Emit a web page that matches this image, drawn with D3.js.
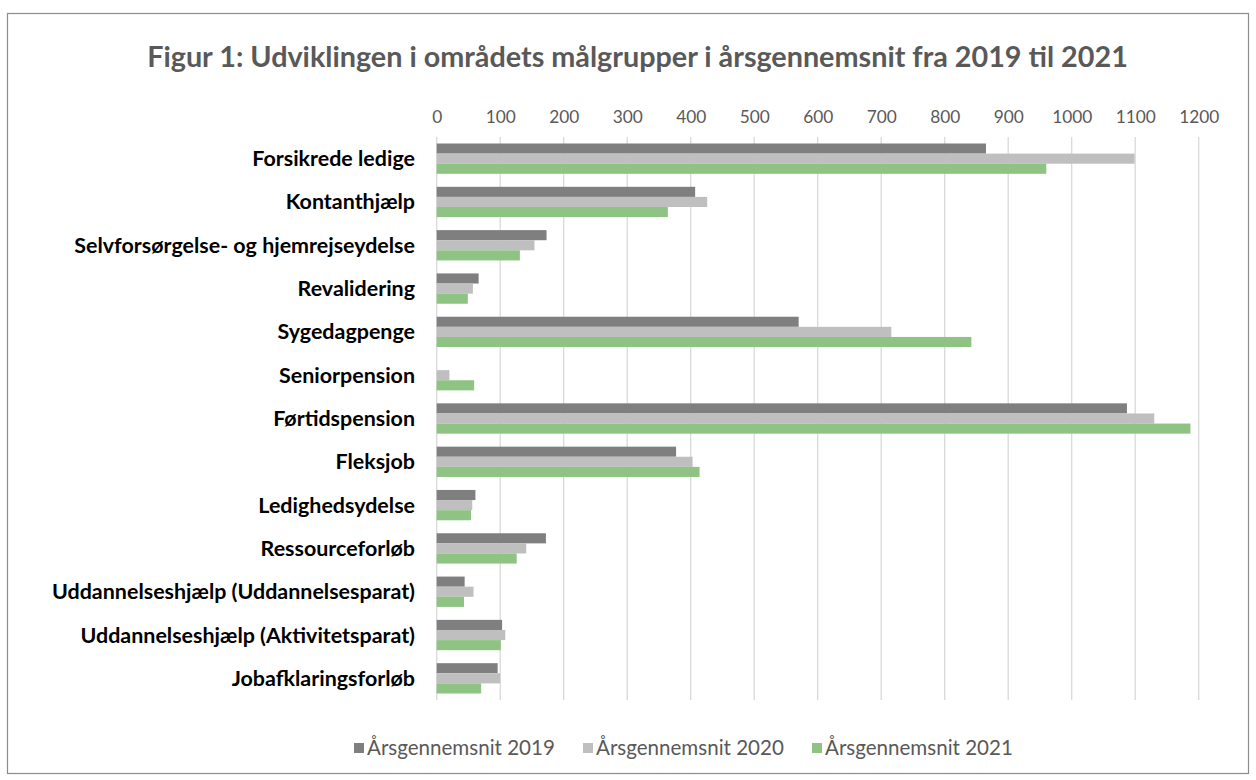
<!DOCTYPE html>
<html>
<head>
<meta charset="utf-8">
<script src="https://cdn.jsdelivr.net/npm/d3@7"></script>
<style>
  html, body { margin: 0; padding: 0; background: #fff; }
  svg { display: block; }
  text { font-family: Lato, "Open Sans", sans-serif; }
</style>
</head>
<body>
<svg id="chart" width="1256" height="780"></svg>
<script>
// Målgrupper (top to bottom)
const categories = [
  "Forsikrede ledige",
  "Kontanthjælp",
  "Selvforsørgelse- og hjemrejseydelse",
  "Revalidering",
  "Sygedagpenge",
  "Seniorpension",
  "Førtidspension",
  "Fleksjob",
  "Ledighedsydelse",
  "Ressourceforløb",
  "Uddannelseshjælp (Uddannelsesparat)",
  "Uddannelseshjælp (Aktivitetsparat)",
  "Jobafklaringsforløb"
];

const seriesNames = ["Årsgennemsnit 2019", "Årsgennemsnit 2020", "Årsgennemsnit 2021"];

// Årsgennemsnit per målgruppe
const values2019 = [865, 407, 173, 66, 570, 0, 1087, 377, 61, 172, 44, 103, 96];
const values2020 = [1099, 426, 154, 57, 716, 20, 1130, 403, 56, 141, 58, 108, 100];
const values2021 = [960, 364, 131, 49, 842, 59, 1187, 414, 54, 126, 43, 101, 70];

const tickValues = [0, 100, 200, 300, 400, 500, 600, 700, 800, 900, 1000, 1100, 1200];

const seriesColors = ["#7f7f7f", "#bfbfbf", "#8fc384"];

const series = [values2019, values2020, values2021];

const svg = d3.select("#chart");

// chart frame
svg.append("rect")
  .attr("x", 7.5).attr("y", 13.5)
  .attr("width", 1241).attr("height", 760)
  .attr("fill", "#fff")
  .attr("stroke", "#8c8c8c")
  .attr("stroke-width", 1.2);

// fit a text element to a given width by adjusting font size
function fitWidth(sel, targetWidth) {
  const node = sel.node();
  const fs = parseFloat(sel.attr("font-size"));
  const w = node.getComputedTextLength();
  sel.attr("font-size", (fs * targetWidth / w).toFixed(2));
}

// title
const title = svg.append("text")
  .attr("x", 637.5).attr("y", 67)
  .attr("text-anchor", "middle")
  .attr("font-size", 22)
  .attr("font-weight", 700)
  .attr("fill", "#595959")
  .text("Figur 1: Udviklingen i områdets målgrupper i årsgennemsnit fra 2019 til 2021");
fitWidth(title, 981);

const x = d3.scaleLinear().domain([0, 1200]).range([436.7, 1198.7]);
const y = d3.scaleBand().domain(categories).range([137, 700]).paddingInner(0.3).paddingOuter(0.15);
const ySub = d3.scaleBand().domain(d3.range(3)).range([0, y.bandwidth()]);

// gridlines
svg.append("g")
  .selectAll("line")
  .data(tickValues)
  .join("line")
  .attr("x1", d => x(d)).attr("x2", d => x(d))
  .attr("y1", 137).attr("y2", 700)
  .attr("stroke", "#d9d9d9")
  .attr("stroke-width", 1.3);

// top axis labels
const axis = svg.append("g")
  .attr("transform", "translate(0,123)")
  .call(d3.axisTop(x).tickValues(tickValues).tickSize(0).tickPadding(0).tickFormat(d3.format("d")));
axis.select(".domain").remove();
axis.selectAll("text")
  .attr("font-family", "Lato, 'Open Sans', sans-serif")
  .attr("font-size", 17.3)
  .attr("fill", "#595959");

// bars
const groups = svg.append("g")
  .selectAll("g")
  .data(categories)
  .join("g")
  .attr("transform", d => `translate(0,${y(d)})`);

groups.selectAll("rect")
  .data((d, i) => series.map((s, k) => ({ k, v: s[i] })))
  .join("rect")
  .attr("x", x(0))
  .attr("y", d => ySub(d.k))
  .attr("width", d => Math.max(0, x(d.v) - x(0)))
  .attr("height", ySub.bandwidth())
  .attr("fill", d => seriesColors[d.k]);

// category labels
const labels = svg.append("g")
  .selectAll("text")
  .data(categories)
  .join("text")
  .attr("x", 415)
  .attr("y", d => y(d) + y.bandwidth() / 2)
  .attr("dy", "0.35em")
  .attr("text-anchor", "end")
  .attr("font-size", 17)
  .attr("font-weight", 700)
  .attr("fill", "#000")
  .text(d => d);

// common label size based on the longest label
const longest = labels.filter(d => d === "Uddannelseshjælp (Uddannelsesparat)");
const lw = longest.node().getComputedTextLength();
labels.attr("font-size", (17 * 363 / lw).toFixed(2));

// legend: square + label per series, evenly spaced
const legend = svg.append("g").attr("transform", "translate(0,748)");
const legendTextWidth = 188;
const legendLeft = 354, legendRight = 1013;
const itemWidth = 13 + legendTextWidth;
const legendGap = (legendRight - legendLeft - 3 * itemWidth) / 2;
seriesNames.forEach((name, k) => {
  const ix = legendLeft + k * (itemWidth + legendGap);
  legend.append("rect")
    .attr("x", ix).attr("y", -5)
    .attr("width", 10).attr("height", 10)
    .attr("fill", seriesColors[k]);
  const t = legend.append("text")
    .attr("x", ix + 13).attr("y", 0)
    .attr("dy", "0.35em")
    .attr("font-size", 17)
    .attr("fill", "#595959")
    .text(name);
  fitWidth(t, legendTextWidth);
});
</script>
</body>
</html>
